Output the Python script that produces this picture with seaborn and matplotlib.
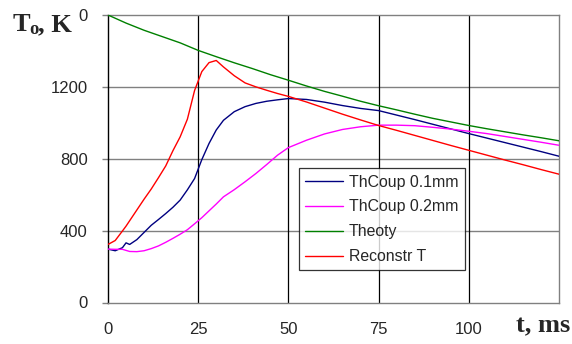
import pandas as pd
import numpy as np
import matplotlib
matplotlib.use('Agg')
import matplotlib.pyplot as plt
import seaborn as sns

sns.set_style('white')
plt.rcParams['font.family'] = ['Liberation Sans', 'DejaVu Sans']
plt.rcParams['mathtext.fontset'] = 'custom'
plt.rcParams['mathtext.rm'] = 'Liberation Serif'
plt.rcParams['mathtext.bf'] = 'Liberation Serif:bold'

# time grid for measured curves, ms
t = [0, 2, 4, 5, 6, 8, 10, 12, 14, 16, 18, 20, 22, 24, 26, 28, 30, 32, 35, 38,
     41, 44, 47, 50, 55, 60, 65, 70, 75, 80, 85, 90, 95, 100, 105, 110, 115,
     120, 125]
thcoup_01 = [297, 288, 305, 332, 323, 350, 390, 430, 462, 495, 530, 570, 627,
             690, 795, 885, 960, 1014, 1062, 1090, 1108, 1120, 1128, 1135, 1130,
             1115, 1096, 1080, 1068, 1043, 1018, 992, 966, 940, 915, 890, 865,
             840, 814]
thcoup_02 = [297, 296, 296, 290, 284, 283, 288, 300, 315, 335, 357, 380, 405,
             438, 472, 510, 548, 588, 628, 672, 718, 768, 820, 862, 903, 938,
             963, 978, 987, 987, 984, 975, 965, 953, 940, 924, 908, 892, 875]
reconstr = [323, 345, 398, 425, 455, 515, 575, 632, 695, 760, 845, 922, 1020,
            1180, 1285, 1335, 1347, 1311, 1262, 1222, 1200, 1181, 1163, 1147,
            1116, 1082, 1048, 1016, 985, 958, 930, 902, 874, 847, 820, 793, 767,
            740, 714]

t_theory = [0, 5, 10, 15, 20, 25, 30, 35, 40, 45, 50, 55, 60, 65, 70, 75, 80,
            85, 90, 95, 100, 105, 110, 115, 120, 125]
theory = [1600, 1555, 1515, 1480, 1445, 1403, 1368, 1334, 1302, 1268, 1237,
          1205, 1175, 1148, 1120, 1095, 1072, 1048, 1025, 1005, 985, 967, 950,
          933, 917, 900]

series_names = ['ThCoup 0.1mm', 'ThCoup 0.2mm', 'Theoty', 'Reconstr T']
colors = ['#000080', '#ff00ff', '#008000', '#ff0000']

df = pd.concat([
    pd.DataFrame({'t': t, 'T': thcoup_01, 'series': series_names[0]}),
    pd.DataFrame({'t': t, 'T': thcoup_02, 'series': series_names[1]}),
    pd.DataFrame({'t': t_theory, 'T': theory, 'series': series_names[2]}),
    pd.DataFrame({'t': t, 'T': reconstr, 'series': series_names[3]}),
], ignore_index=True)

fig = plt.figure(figsize=(5.72, 3.44), dpi=100)
ax = fig.add_axes([108 / 572, 1 - 302.5 / 344, 451 / 572, 287.5 / 344])

sns.lineplot(data=df, x='t', y='T', hue='series', hue_order=series_names,
             palette=colors, linewidth=1.0, ax=ax, sort=False, zorder=3)

ax.set_xlim(0, 125)
ax.set_ylim(0, 1600)
ax.set_xticks([0, 25, 50, 75, 100])
ax.set_yticks([0, 400, 800, 1200, 1600])
ax.set_yticklabels(['0', '400', '800', '1200', '0'])
ax.set_xlabel('')
ax.set_ylabel('')
ax.tick_params(axis='x', length=0, pad=14, labelsize=12)
ax.tick_params(axis='y', length=4.5, width=1, color='#808080', pad=10, labelsize=12,
               direction='out', left=True)

# grid: grey horizontal, black vertical
for yv in [400, 800, 1200]:
    ax.axhline(yv, color='#808080', lw=1, zorder=1)
for xv in [25, 50, 75, 100]:
    ax.axvline(xv, color='#000000', lw=0.9, zorder=1)

for side in ['top', 'bottom', 'right']:
    ax.spines[side].set_color('#808080')
    ax.spines[side].set_linewidth(1)
    ax.spines[side].set_visible(True)
ax.spines['left'].set_color('#000000')
ax.spines['left'].set_linewidth(1)

leg = ax.legend(loc='upper left', bbox_to_anchor=(299 / 572, 1 - 168.3 / 344),
                bbox_transform=fig.transFigure, borderaxespad=0, fontsize=11.4,
                frameon=True, fancybox=False, handlelength=2.4,
                handletextpad=0.35, labelspacing=0.62, borderpad=0.4)
leg.get_frame().set_edgecolor('#000000')
leg.get_frame().set_linewidth(0.9)
leg.set_zorder(5)

fig.text(12 / 572, 1 - 31 / 344, r'$\mathbf{T_o}$', fontsize=19, ha='left',
         va='baseline')
fig.text(38 / 572, 1 - 31 / 344, ', K', fontsize=19, ha='left', va='baseline',
         family='Liberation Serif', weight='bold')
fig.text(570 / 572, 1 - 332 / 344, 't, ms', fontsize=19, ha='right',
         va='baseline', family='Liberation Serif', weight='bold')

fig.savefig('out.png', dpi=100)
